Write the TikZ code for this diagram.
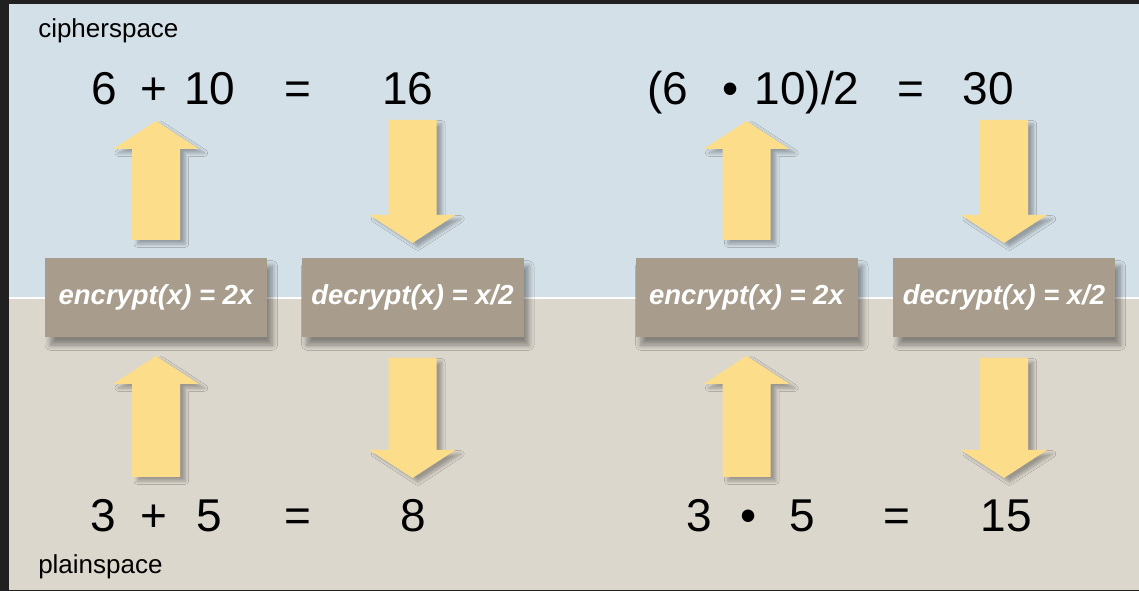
\documentclass[tikz,border=0pt]{standalone}
\usepackage{fontspec}
\setmainfont{Liberation Sans}
\usetikzlibrary{shadows.blur}

\definecolor{framecol}{RGB}{32,32,32}
\definecolor{ciphercol}{RGB}{212,224,231}
\definecolor{plaincol}{RGB}{220,215,205}
\definecolor{boxcol}{RGB}{168,157,140}
\definecolor{arrowcol}{RGB}{252,221,138}

% block arrow: #1 centre x, #2 tail y, #3 head base y, #4 tip y
\newcommand\blockarrow[4]{%
  \fill[arrowcol, blur shadow={shadow xshift=4pt, shadow yshift=-3pt,
        shadow opacity=30, shadow blur steps=6, shadow blur radius=2.5pt}]
    (#1-24,#2) -- (#1-24,#3) -- (#1-43,#3) -- (#1,#4) -- (#1+43,#3)
    -- (#1+24,#3) -- (#1+24,#2) -- cycle;}

\begin{document}
\begin{tikzpicture}[x=0.75pt, y=-0.75pt,
  bigtext/.style={anchor=base, inner sep=0, font=\fontsize{34.5}{40}\selectfont},
  spacelabel/.style={anchor=base west, inner sep=0, font=\fontsize{19.5}{23}\selectfont},
  opbox/.style={fill=boxcol, text=white, inner sep=0,
    minimum width=166.5pt, minimum height=59.25pt,
    font=\fontsize{20.6}{24}\selectfont\bfseries\itshape,
    blur shadow={shadow xshift=4pt, shadow yshift=-6pt,
      shadow opacity=40, shadow blur steps=8, shadow blur radius=4pt}}]

% frame and the two half planes
\fill[framecol] (0,0) rectangle (1139,591);
\useasboundingbox (0,0) rectangle (1139,591);
\fill[ciphercol] (9,4) rectangle (1139,298);
\fill[plaincol] (9,298) rectangle (1139,590);
\draw[white, line width=1.5pt] (9,298) -- (1139,298);

% labels of the spaces
\node[spacelabel] (cs) at (38,38) {cipherspace};
\node[spacelabel] (ps) at (38,573) {plainspace};

% arrows, left group
\blockarrow{156}{240}{149}{121}
\blockarrow{412.5}{120}{215}{243}
\blockarrow{156}{477}{384}{356}
\blockarrow{412.5}{358}{450}{478}
% arrows, right group
\blockarrow{746.5}{240}{149}{121}
\blockarrow{1004}{120}{215}{243}
\blockarrow{746.5}{477}{384}{356}
\blockarrow{1004}{358}{450}{478}

% operation boxes
\node[opbox] (enc1) at (156,297.5) {encrypt(x) = 2x};
\node[opbox] (dec1) at (412.5,297.5) {decrypt(x) = x/2};
\node[opbox] (enc2) at (746.5,297.5) {encrypt(x) = 2x};
\node[opbox] (dec2) at (1004,297.5) {decrypt(x) = x/2};

% ciphertext sums, left
\node[bigtext] (ca1) at (104,105) {6};
\node[bigtext] (cop1) at (154,105) {+};
\node[bigtext] (cb1) at (210,105) {10};
\node[bigtext] (ceq1) at (298,105) {=};
\node[bigtext] (cr1) at (408,105) {16};
% plaintext sums, left
\node[bigtext] (pa1) at (103,532) {3};
\node[bigtext] (pop1) at (154,532) {+};
\node[bigtext] (pb1) at (209,532) {5};
\node[bigtext] (peq1) at (298,532) {=};
\node[bigtext] (pr1) at (413,532) {8};

% ciphertext products, right
\node[bigtext] (ca2) at (668,105) {(6};
\node[bigtext] (cop2) at (731,105) {•};
\node[bigtext] (cb2) at (807,105) {10)/2};
\node[bigtext] (ceq2) at (911,105) {=};
\node[bigtext] (cr2) at (988,105) {30};
% plaintext products, right
\node[bigtext] (pa2) at (699,532) {3};
\node[bigtext] (pop2) at (749,532) {•};
\node[bigtext] (pb2) at (802,532) {5};
\node[bigtext] (peq2) at (897,532) {=};
\node[bigtext] (pr2) at (1006,532) {15};
\end{tikzpicture}
\end{document}
